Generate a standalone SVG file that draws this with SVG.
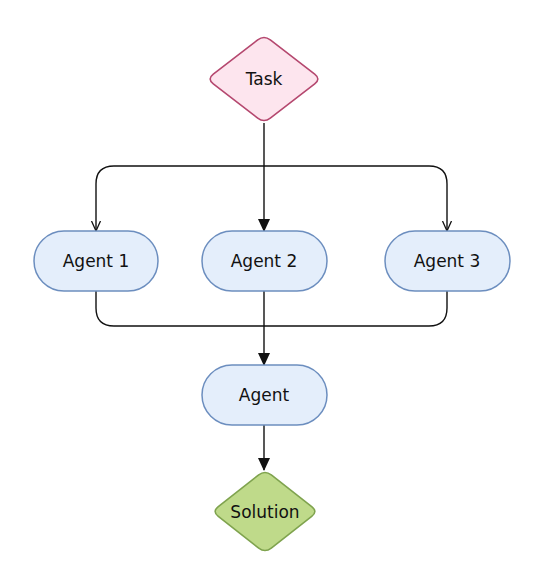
<svg xmlns="http://www.w3.org/2000/svg" width="551" height="576" viewBox="0 0 551 576">
<style>
.lbl{font-family:"DejaVu Sans","Liberation Sans",sans-serif;font-size:17px;fill:#111;text-anchor:middle;dominant-baseline:central}
.agent{fill:#e4eefb;stroke:#6c8ebf;stroke-width:1.5}
.edge{fill:none;stroke:#111;stroke-width:1.4}
</style>
<defs>
<marker id="solid" markerWidth="14" markerHeight="14" refX="12" refY="7" orient="auto" markerUnits="userSpaceOnUse" viewBox="0 0 14 14">
<path d="M0,1 L13,7 L0,13 Z" fill="#111"/>
</marker>
<marker id="open" markerWidth="12" markerHeight="12" refX="10" refY="6" orient="auto" markerUnits="userSpaceOnUse" viewBox="0 0 12 12">
<path d="M0,1.5 L10,6 L0,10.5" fill="none" stroke="#111" stroke-width="1.3"/>
</marker>
</defs>
<rect width="551" height="576" fill="#fff"/>
<g id="connectors">
<path class="edge" d="M264,123 L264,231" marker-end="url(#solid)"/>
<path class="edge" d="M264,166 L114,166 Q96,166 96,184 L96,231" marker-end="url(#open)"/>
<path class="edge" d="M264,166 L429,166 Q447,166 447,184 L447,231" marker-end="url(#open)"/>
<path class="edge" d="M96,290 L96,308 Q96,326 114,326 L429,326 Q447,326 447,308 L447,291"/>
<path class="edge" d="M264,291 L264,365" marker-end="url(#solid)"/>
<path class="edge" d="M264,425 L264,470" marker-end="url(#solid)"/>
</g>
<g id="task">
<path d="M257.7,39.9 Q264,35 270.3,39.9 L314.7,74.1 Q321,79 314.7,83.9 L270.3,118.1 Q264,123 257.7,118.1 L213.3,83.9 Q207,79 213.3,74.1 Z" fill="#fde5ee" stroke="#b5486f" stroke-width="1.6"/>
<text class="lbl" x="264" y="79">Task</text>
</g>
<g id="agent1">
<rect class="agent" x="34" y="231" width="124" height="60" rx="30"/>
<text class="lbl" x="96" y="261">Agent 1</text>
</g>
<g id="agent2">
<rect class="agent" x="202" y="231" width="125" height="60" rx="30"/>
<text class="lbl" x="264" y="261">Agent 2</text>
</g>
<g id="agent3">
<rect class="agent" x="385" y="231" width="125" height="60" rx="30"/>
<text class="lbl" x="447" y="261">Agent 3</text>
</g>
<g id="agent">
<rect class="agent" x="202" y="365" width="125" height="60" rx="30"/>
<text class="lbl" x="264" y="395">Agent</text>
</g>
<g id="solution">
<path d="M258.7,474.9 Q265,470 271.3,474.9 L311.7,506.6 Q318,511.5 311.7,516.4 L271.3,548.1 Q265,553 258.7,548.1 L218.3,516.4 Q212,511.5 218.3,506.6 Z" fill="#bfda8a" stroke="#7fa34e" stroke-width="1.6"/>
<text class="lbl" x="265" y="511.5">Solution</text>
</g>
</svg>
